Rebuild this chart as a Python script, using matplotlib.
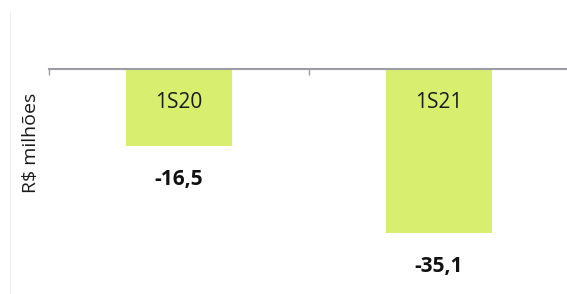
import matplotlib.pyplot as plt
from matplotlib.lines import Line2D

# dados
periodos = ['1S20', '1S21']
valores = [-16.5, -35.1]
rotulos = ['-16,5', '-35,1']

plt.rcParams['font.family'] = ['Open Sans', 'DejaVu Sans']

W, H = 567, 294
fig = plt.figure(figsize=(W / 100, H / 100), dpi=100)
ax = fig.add_axes([49 / W, 0, 518 / W, 225 / H])

x = range(len(periodos))
ax.bar(x, valores, width=0.41, color='#D8EE6F')

ax.set_xlim(-0.5, -0.5 + 518 / 260)
ax.set_ylim(-225 / 4.67, 0)

for i, (p, v, r) in enumerate(zip(periodos, valores, rotulos)):
    ax.annotate(p, (i, 0), xytext=(0, -24), textcoords='offset points',
                ha='center', va='center', fontsize=15, color='#1a1a1a')
    ax.annotate(r, (i, v), xytext=(0, -24), textcoords='offset points',
                ha='center', va='center', fontsize=15, fontweight='bold',
                color='#111111')

for s in ['left', 'right', 'bottom']:
    ax.spines[s].set_visible(False)
ax.spines['top'].set_color('#9C9CA4')
ax.spines['top'].set_linewidth(1.5)
ax.xaxis.tick_top()
ax.set_xticks([-0.5, 0.5])
ax.set_xticklabels([])
ax.tick_params(axis='x', direction='in', length=4.5, color='#9C9CA4', width=1)
ax.set_yticks([])

fig.text(31 / W, 1 - 143 / H, 'R$ milhões', rotation=90, ha='center',
         va='center', fontsize=14, color='#1a1a1a')
fig.add_artist(Line2D([10 / W, 10 / W], [0, 1 - 12 / H], color='#EEEEEE', lw=0.8))

fig.savefig('out.png', dpi=100)
